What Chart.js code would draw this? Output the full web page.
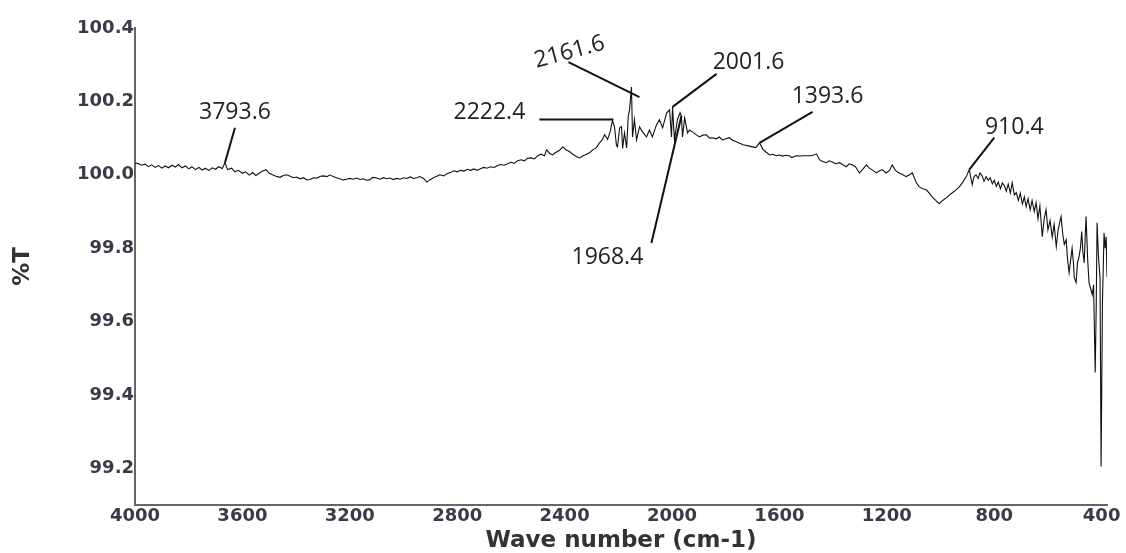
<!DOCTYPE html>
<html>
<head>
<meta charset="utf-8">
<script src="https://cdn.jsdelivr.net/npm/chart.js@4.4.0/dist/chart.umd.min.js"></script>
<style>
body { margin: 0; background: #fff; }
#wrap { width: 1126px; height: 553px; }
</style>
</head>
<body>
<div id="wrap"><canvas id="ftir"></canvas></div>
<script>
// FTIR spectrum
const waveNumbers = [
  4000, 3990, 3975, 3962, 3950, 3938, 3925, 3912, 3900, 3888, 3875, 3862, 3850, 3838, 3825, 3812,
  3800, 3788, 3775, 3762, 3750, 3738, 3725, 3712, 3700, 3688, 3675, 3665, 3655, 3640, 3628, 3615,
  3600, 3588, 3575, 3562, 3550, 3538, 3525, 3512, 3500, 3488, 3475, 3460, 3448, 3435, 3422, 3410,
  3398, 3385, 3372, 3360, 3348, 3335, 3322, 3310, 3298, 3285, 3274, 3262, 3250, 3238, 3225, 3212,
  3200, 3188, 3175, 3162, 3150, 3138, 3126, 3115, 3100, 3088, 3075, 3062, 3050, 3038, 3025, 3012,
  3000, 2988, 2975, 2962, 2950, 2940, 2925, 2913, 2902, 2890, 2878, 2865, 2850, 2838, 2825, 2812,
  2800, 2788, 2775, 2762, 2750, 2738, 2725, 2712, 2700, 2690, 2675, 2662, 2650, 2638, 2625, 2612,
  2600, 2588, 2575, 2562, 2550, 2538, 2525, 2512, 2500, 2488, 2475, 2467, 2455, 2445, 2435, 2420,
  2407, 2395, 2381, 2370, 2356, 2344, 2332, 2320, 2307, 2295, 2282, 2270, 2260, 2251, 2240, 2230,
  2222, 2214, 2207, 2203, 2195, 2188, 2184, 2177, 2169, 2163, 2158, 2151, 2147, 2140, 2132, 2121,
  2110, 2095, 2084, 2073, 2058, 2047, 2035, 2020, 2009, 2002, 1998, 1991, 1980, 1970, 1965, 1961,
  1953, 1942, 1935, 1924, 1912, 1898, 1885, 1872, 1860, 1849, 1835, 1824, 1812, 1800, 1786, 1775,
  1760, 1748, 1735, 1712, 1700, 1688, 1674, 1662, 1650, 1637, 1625, 1612, 1600, 1588, 1575, 1563,
  1555, 1537, 1525, 1512, 1500, 1487, 1475, 1462, 1451, 1440, 1425, 1415, 1403, 1390, 1377, 1365,
  1351, 1340, 1328, 1315, 1302, 1290, 1276, 1265, 1252, 1239, 1228, 1217, 1202, 1190, 1180, 1168,
  1154, 1140, 1128, 1115, 1105, 1090, 1079, 1066, 1053, 1042, 1031, 1018, 1005, 992, 979, 968,
  956, 943, 930, 917, 904, 893, 882, 875, 868, 860, 853, 845, 838, 830, 822, 815,
  807, 800, 792, 785, 777, 770, 762, 755, 748, 740, 733, 725, 718, 710, 703, 695,
  688, 681, 674, 666, 659, 651, 644, 637, 630, 621, 614, 607, 600, 592, 584, 577,
  569, 562, 556, 551, 545, 539, 532, 527, 521, 515, 510, 505, 502, 495, 490, 484,
  479, 474, 470, 465, 458, 452, 447, 441, 435, 430, 424, 420, 417, 412, 406, 402,
  397, 391, 387, 383, 380
];
const transmittance = [
  100.032, 100.031, 100.026, 100.029, 100.022, 100.027, 100.020, 100.025, 100.018, 100.024, 100.019, 100.026, 100.021, 100.028, 100.019, 100.024,
  100.016, 100.022, 100.014, 100.020, 100.013, 100.018, 100.012, 100.019, 100.015, 100.022, 100.017, 100.033, 100.014, 100.018, 100.008, 100.012,
  100.004, 100.008, 99.999, 100.006, 99.998, 100.004, 100.010, 100.014, 100.004, 100.000, 99.996, 99.993, 99.998, 100.000, 99.996, 99.992,
  99.994, 99.989, 99.992, 99.986, 99.987, 99.992, 99.991, 99.996, 99.997, 99.995, 100.000, 99.995, 99.992, 99.989, 99.986, 99.988,
  99.990, 99.988, 99.991, 99.987, 99.989, 99.985, 99.986, 99.993, 99.991, 99.988, 99.992, 99.989, 99.991, 99.987, 99.990, 99.988,
  99.992, 99.990, 99.994, 99.990, 99.992, 99.995, 99.990, 99.980, 99.986, 99.991, 99.995, 100.000, 99.997, 100.003, 100.006, 100.011,
  100.008, 100.012, 100.010, 100.015, 100.012, 100.016, 100.012, 100.017, 100.020, 100.018, 100.022, 100.020, 100.025, 100.028, 100.026, 100.030,
  100.034, 100.031, 100.038, 100.041, 100.038, 100.045, 100.046, 100.043, 100.052, 100.056, 100.052, 100.068, 100.058, 100.054, 100.060, 100.066,
  100.076, 100.068, 100.063, 100.056, 100.050, 100.046, 100.052, 100.055, 100.060, 100.068, 100.074, 100.087, 100.095, 100.109, 100.096, 100.118,
  100.148, 100.130, 100.080, 100.076, 100.128, 100.131, 100.072, 100.114, 100.073, 100.160, 100.177, 100.239, 100.103, 100.150, 100.095, 100.131,
  100.117, 100.103, 100.122, 100.103, 100.136, 100.150, 100.128, 100.169, 100.177, 100.103, 100.185, 100.095, 100.150, 100.169, 100.160, 100.103,
  100.155, 100.114, 100.122, 100.117, 100.110, 100.103, 100.108, 100.109, 100.100, 100.101, 100.098, 100.103, 100.095, 100.098, 100.101, 100.094,
  100.090, 100.086, 100.082, 100.078, 100.076, 100.074, 100.087, 100.070, 100.062, 100.054, 100.056, 100.052, 100.054, 100.051, 100.053, 100.052,
  100.047, 100.052, 100.051, 100.052, 100.052, 100.052, 100.053, 100.057, 100.041, 100.036, 100.033, 100.038, 100.035, 100.030, 100.033, 100.028,
  100.022, 100.030, 100.027, 100.020, 100.005, 100.015, 100.027, 100.018, 100.012, 100.005, 100.010, 100.014, 100.005, 100.012, 100.027, 100.012,
  100.005, 100.000, 99.995, 100.000, 100.005, 99.978, 99.967, 99.962, 99.959, 99.950, 99.940, 99.930, 99.921, 99.930, 99.937, 99.944,
  99.951, 99.958, 99.967, 99.980, 99.995, 100.014, 99.973, 99.995, 100.000, 99.990, 100.005, 99.997, 99.982, 99.995, 99.985, 99.992,
  99.975, 99.985, 99.968, 99.980, 99.962, 99.978, 99.970, 99.955, 99.975, 99.950, 99.978, 99.945, 99.951, 99.930, 99.950, 99.920,
  99.940, 99.913, 99.935, 99.905, 99.930, 99.900, 99.924, 99.880, 99.915, 99.831, 99.880, 99.905, 99.850, 99.875, 99.830, 99.865,
  99.804, 99.850, 99.870, 99.886, 99.840, 99.810, 99.823, 99.770, 99.733, 99.770, 99.800, 99.760, 99.720, 99.706, 99.760, 99.777,
  99.800, 99.845, 99.790, 99.760, 99.886, 99.770, 99.706, 99.690, 99.673, 99.700, 99.461, 99.650, 99.869, 99.780, 99.720, 99.205,
  99.650, 99.842, 99.800, 99.831, 99.722
];
const xTicks = [4000, 3600, 3200, 2800, 2400, 2000, 1600, 1200, 800, 400];
const yTicks = [99.2, 99.4, 99.6, 99.8, 100.0, 100.2, 100.4];
const peakLabels = ["3793.6", "2222.4", "2161.6", "2001.6", "1968.4", "1393.6", "910.4"];
const peakAt = [3665, 2222, 2151, 1998, 1965, 1674, 893];

// where each label and its pointer sit, in px relative to the peak point
const pointerLayout = [
  { label: [10, -50], from: [10, -35] },
  { label: [-123, -8], from: [-73, -1], bend: [0, -1] },
  { label: [-62, -35], from: [-63, -25], to: [8, 10], rotate: -15 },
  { label: [76, -44], from: [44, -33] },
  { label: [-74, 141], from: [-30, 127] },
  { label: [68, -46], from: [53, -31] },
  { label: [45, -42], from: [25, -32] }
];

const peakPointers = {
  id: 'peakPointers',
  afterDatasetsDraw(chart) {
    const ctx = chart.ctx;
    const xs = chart.scales.x, ys = chart.scales.y;
    ctx.save();
    ctx.strokeStyle = '#111';
    ctx.lineWidth = 2;
    ctx.fillStyle = '#222';
    ctx.font = '23px "Open Sans"';
    ctx.textAlign = 'center';
    ctx.textBaseline = 'middle';
    peakLabels.forEach((txt, i) => {
      const idx = waveNumbers.indexOf(peakAt[i]);
      const px = xs.getPixelForValue(peakAt[i]);
      const py = ys.getPixelForValue(transmittance[idx]);
      const lay = pointerLayout[i];
      ctx.beginPath();
      ctx.moveTo(px + lay.from[0], py + lay.from[1]);
      if (lay.bend) ctx.lineTo(px + lay.bend[0], py + lay.bend[1]);
      const end = lay.to || [0, 0];
      ctx.lineTo(px + end[0], py + end[1]);
      ctx.stroke();
      ctx.save();
      ctx.translate(px + lay.label[0], py + lay.label[1]);
      if (lay.rotate) ctx.rotate(lay.rotate * Math.PI / 180);
      ctx.fillText(txt, 0, 0);
      ctx.restore();
    });
    ctx.restore();
  }
};

const tickFont = { family: '"DejaVu Sans"', size: 18, weight: 'bold' };
const titleFont = { family: '"DejaVu Sans"', size: 23, weight: 'bold', lineHeight: 1 };

new Chart(document.getElementById('ftir'), {
  type: 'line',
  data: {
    datasets: [{
      data: waveNumbers.map((w, i) => ({ x: w, y: transmittance[i] })),
      borderColor: '#111',
      borderWidth: 1.1,
      pointRadius: 0,
      tension: 0,
      fill: false
    }]
  },
  options: {
    responsive: true,
    maintainAspectRatio: false,
    animation: false,
    layout: { padding: { top: 28, right: 19, left: 0, bottom: 0 } },
    plugins: {
      legend: { display: false },
      tooltip: { enabled: false }
    },
    scales: {
      x: {
        type: 'linear',
        reverse: true,
        min: 380,
        max: 4000,
        grid: { display: false, drawTicks: false },
        border: { display: true, color: '#666', width: 2 },
        ticks: { font: tickFont, color: '#3a3a48', padding: 1, maxRotation: 0, callback: v => String(v) },
        afterBuildTicks: s => { s.ticks = xTicks.map(v => ({ value: v })); },
        afterFit: s => { s.height = 48; },
        title: { display: true, text: 'Wave number (cm-1)', font: titleFont, color: '#333', padding: { top: 0, bottom: 0 } }
      },
      y: {
        min: 99.1,
        max: 100.4,
        grid: { display: false, drawTicks: false },
        border: { display: true, color: '#666', width: 2 },
        ticks: { font: tickFont, color: '#3a3a48', padding: 1, callback: v => v.toFixed(1) },
        afterBuildTicks: s => { s.ticks = yTicks.map(v => ({ value: v })); },
        afterFit: s => { s.width = 135; },
        title: { display: true, text: '%T', font: titleFont, color: '#333', padding: { top: 12, bottom: 0 } }
      }
    }
  },
  plugins: [peakPointers]
});
</script>
</body>
</html>
